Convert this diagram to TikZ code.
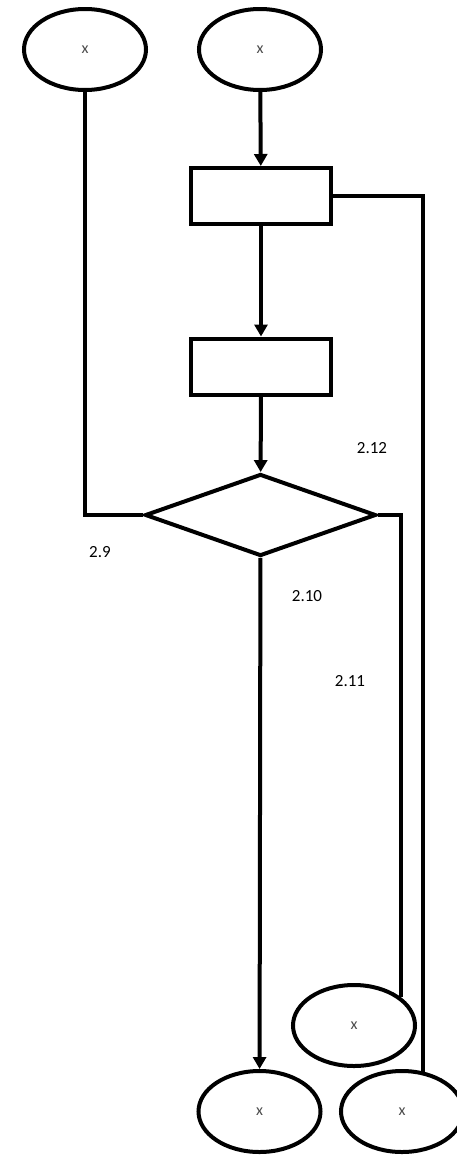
\documentclass[tikz,border=0pt]{standalone}
\usepackage{fontspec}
\setmainfont{Carlito}
\usetikzlibrary{shapes.geometric,arrows.meta}
\begin{document}
\begin{tikzpicture}[x=1pt,y=-1pt,
  every node/.style={inner sep=0pt},
  oval/.style={ellipse,draw,line width=4pt,minimum width=122pt,minimum height=81pt,font=\fontsize{16}{16}\selectfont,text=black!70},
  box/.style={rectangle,draw,line width=4pt,minimum width=140pt,minimum height=56pt},
  decision/.style={diamond,draw,line width=4pt,minimum width=231pt,minimum height=82pt},
  line/.style={draw,line width=4pt},
  conn/.style={line,-{Triangle[length=12pt,width=13pt]}},
  lab/.style={font=\fontsize{17}{17}\selectfont}]
\useasboundingbox (0,0) rectangle (457,1157);
\node[oval] (e1) at (85,49.5) {x};
\node[oval] (e2) at (260,49.5) {x};
\node[box] (r1) at (261,196) {};
\node[box] (r2) at (261,366.5) {};
\node[decision] (d) at (260.5,515) {};
\node[oval] (e4) at (354,1025.5) {x};
\node[oval] (e5) at (402,1111.5) {x};
\node[oval] (e6) at (259.5,1111.5) {x};
\draw[conn] (e2) -- (r1);
\draw[conn] (r1) -- (r2);
\draw[conn] (r2) -- (d);
\draw[conn] (d) -- (e6);
\draw[line] (e1.south) |- (d.west);
\draw[line] (d.east) -| (e4.31);
\draw[line] (r1.east) -| (e5.62);
\node[lab] (l12) at (372,448) {2.12};
\node[lab] (l9) at (100,552) {2.9};
\node[lab] (l10) at (307,596) {2.10};
\node[lab] (l11) at (350,681) {2.11};
\end{tikzpicture}
\end{document}
